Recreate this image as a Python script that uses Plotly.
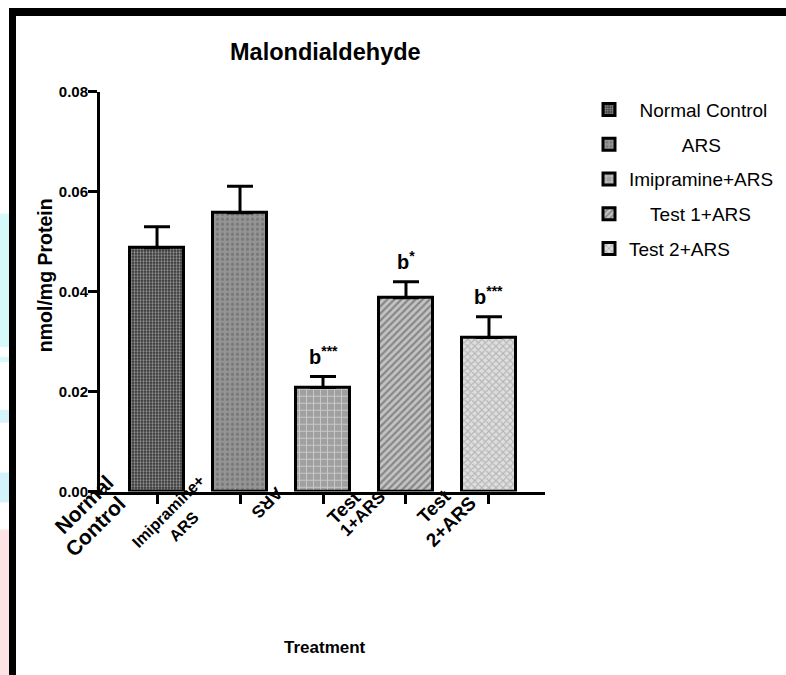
import plotly.graph_objects as go

# ---- data ----
categories = ["Normal Control", "ARS", "Imipramine+ARS", "Test 1+ARS", "Test 2+ARS"]
values = [0.0488, 0.0558, 0.0208, 0.0388, 0.0308]
errors = [0.0042, 0.0053, 0.0022, 0.0032, 0.0042]
significance = ["", "", "b***", "b*", "b***"]
tick_labels = [["Normal", "Control"], ["Imipramine+", "ARS"], ["ARS"], ["Test", "1+ARS"], ["Test", "2+ARS"]]
y_ticks = [0.0, 0.02, 0.04, 0.06, 0.08]

# legend text padding to mimic centred legend labels
legend_pad = [2, 10, 0, 4, 0]

# ---- styles ----
W, H = 786, 675
FONT = "Liberation Sans, Arial, sans-serif"
patterns = [
    dict(shape=".", fgcolor="#ffffff", bgcolor="#262626", size=3, solidity=0.5),
    dict(shape=".", fgcolor="#5e5e5e", bgcolor="#959595", size=5, solidity=0.35),
    dict(shape="+", fgcolor="#f4f4f4", bgcolor="#a0a0a0", size=7, solidity=0.25),
    dict(shape="/", fgcolor="#4a4a4a", bgcolor="#c4c4c4", size=5, solidity=0.45),
    dict(shape="x", fgcolor="#8c8c8c", bgcolor="#dedede", size=5, solidity=0.4),
]


def px(x):
    return x / W


def py(y):
    # picture-pixel y -> paper fraction (page is drawn 8px down, 660px tall)
    return 1 - (y - 8) / 660.0


fig = go.Figure()
for i, (name, v, e) in enumerate(zip(categories, values, errors)):
    fig.add_trace(go.Bar(
        x=[i], y=[v], name="\u00a0" * legend_pad[i] + name,
        width=0.65, legendgroup=str(i),
        marker=dict(color=patterns[i]["bgcolor"], pattern=patterns[i],
                    line=dict(color="black", width=3)),
        error_y=dict(type="data", symmetric=False, array=[e], arrayminus=[0],
                     color="black", thickness=3, width=13),
    ))

annotations = []
# significance marks
for i, s in enumerate(significance):
    if s:
        annotations.append(dict(
            x=i, y=values[i] + errors[i], xref="x", yref="y",
            text=s[0] + "<sup>" + s[1:] + "</sup>", showarrow=False,
            yanchor="bottom", yshift=7,
            font=dict(family=FONT, size=20, color="black", weight="bold")))

# rotated category labels (offsets relative to each tick)
label_layout = [
    [(-73, -13, 21, -45), (-62, -35, 21, -45)],
    [(-72, -20, 16, -45), (-56, -35, 16, -45)],
    [(-56, -11, 17, 135)],
    [(-62, -16, 19, -45), (-43, -22, 17, -45)],
    [(-55, -15, 19, -45), (-38, -30, 19, -45)],
]
for i, lines in enumerate(tick_labels):
    for txt, (dx, dy, fs, ang) in zip(lines, label_layout[i]):
        annotations.append(dict(
            x=i, y=0, xref="x", yref="y", text=txt, showarrow=False,
            xanchor="center", yanchor="middle", xshift=dx, yshift=dy,
            textangle=ang,
            font=dict(family=FONT, size=fs, color="black", weight="bold")))

# titles
annotations.append(dict(x=px(325), y=py(51), xref="paper", yref="paper",
                        text="Malondialdehyde", showarrow=False,
                        xanchor="center", yanchor="middle",
                        font=dict(family=FONT, size=23.5, color="black", weight="bold")))
annotations.append(dict(x=px(45), y=py(275), xref="paper", yref="paper",
                        text="nmol/mg Protein", showarrow=False, textangle=-90,
                        xanchor="center", yanchor="middle",
                        font=dict(family=FONT, size=19.5, color="black", weight="bold")))
annotations.append(dict(x=px(325), y=py(648), xref="paper", yref="paper",
                        text="Treatment", showarrow=False,
                        xanchor="center", yanchor="middle",
                        font=dict(family=FONT, size=17, color="black", weight="bold")))

shapes = [
    # frame
    dict(type="rect", xref="paper", yref="paper", x0=px(9), x1=1, y0=py(15), y1=py(7),
         fillcolor="black", line=dict(width=0), layer="above"),
    dict(type="rect", xref="paper", yref="paper", x0=px(9), x1=px(16), y0=py(680), y1=py(7),
         fillcolor="black", line=dict(width=0), layer="above"),
]
for (a, b, c) in [(213, 347, "#d6fafa"), (357, 362, "#d6fafa"), (410, 423, "#d6f4fa"),
                  (473, 503, "#d3f3fb"), (530, 680, "#fde3e3")]:
    shapes.append(dict(type="rect", xref="paper", yref="paper", x0=0, x1=px(9),
                       y0=py(b), y1=py(a), fillcolor=c, line=dict(width=0), layer="below"))

fig.update_layout(
    width=W, height=H, margin=dict(l=0, r=0, t=0, b=0),
    paper_bgcolor="white", plot_bgcolor="white",
    barmode="overlay", bargap=0,
    showlegend=True,
    legend=dict(x=px(589), y=py(90), xanchor="left", yanchor="top",
                font=dict(family=FONT, size=19, color="black"),
                tracegroupgap=7, bgcolor="rgba(0,0,0,0)"),
    annotations=annotations, shapes=shapes,
    xaxis=dict(domain=[px(100), px(545)], range=[-0.687, 4.675],
               showline=True, linewidth=3, linecolor="black",
               ticks="outside", ticklen=9, tickwidth=2.5, tickcolor="black",
               tickvals=list(range(len(categories))), showticklabels=False,
               showgrid=False, zeroline=False, fixedrange=True),
    yaxis=dict(domain=[py(492), py(91)], range=[0, 0.08],
               showline=True, linewidth=3, linecolor="black",
               ticks="outside", ticklen=9, tickwidth=2.5, tickcolor="black",
               ticklabelstandoff=-3,
               tickvals=y_ticks, tickformat=".2f",
               tickfont=dict(family=FONT, size=15, color="black", weight="bold"),
               showgrid=False, zeroline=False, fixedrange=True),
)

fig.write_html("out.html")
